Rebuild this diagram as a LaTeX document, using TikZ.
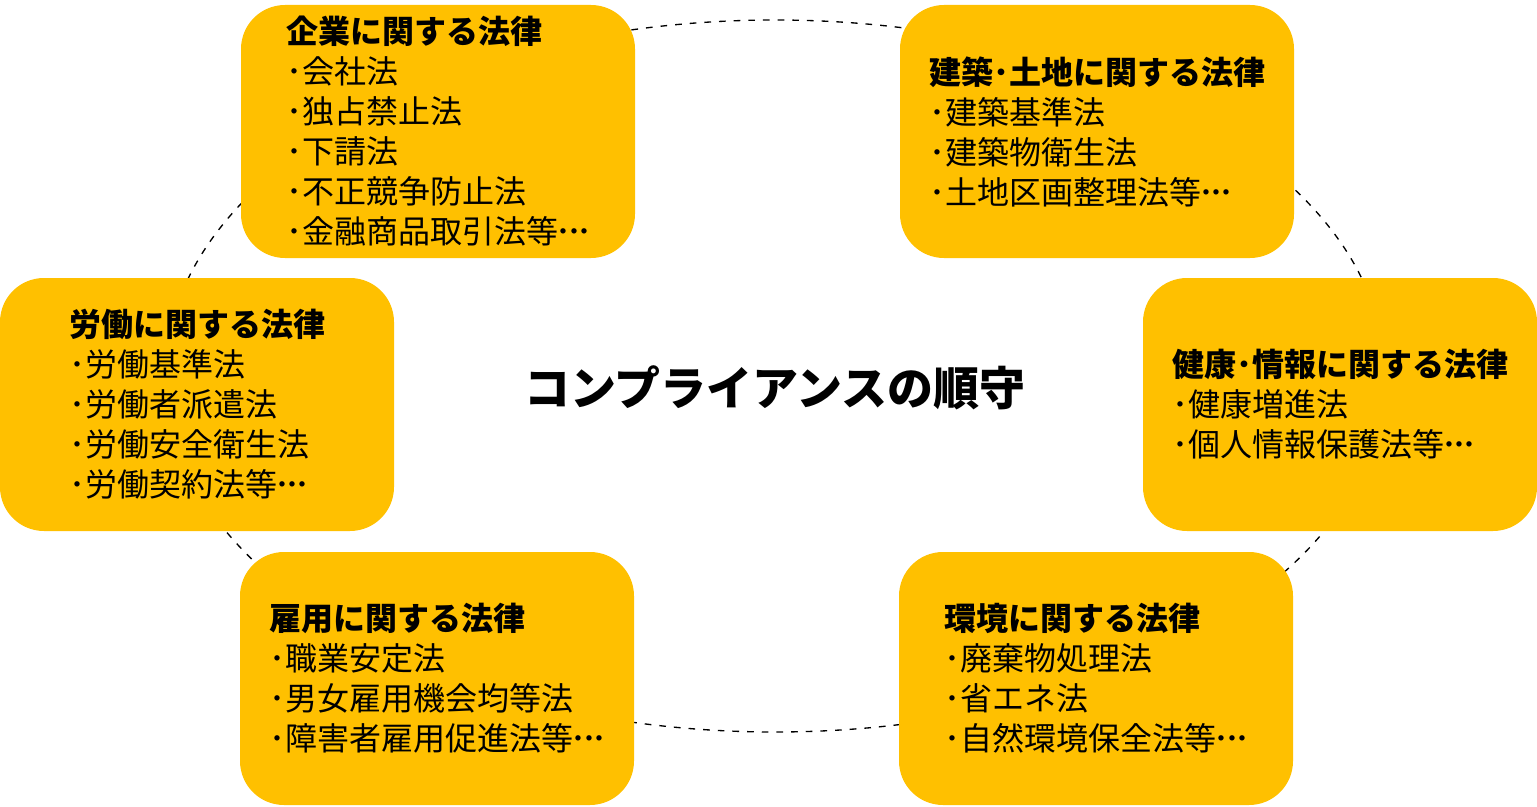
\documentclass[tikz,border=0pt]{standalone}
\usepackage{fontspec}
\newfontfamily\jp{Noto Sans CJK JP}
\definecolor{gold}{HTML}{FFC000}
\newcommand\jpell{\makebox[0.32em][c]{･}\makebox[0.32em][c]{･}\makebox[0.32em][c]{･}}
\tikzset{
  lawbox/.style={fill=gold, draw=none, rounded corners=33pt, minimum width=295.5pt, minimum height=189.75pt, inner sep=0pt, outer sep=0pt, align=left, font=\jp\fontsize{24}{30}\selectfont},
  ring/.style={dashed, dash pattern=on 5pt off 6pt, line width=1pt, black},
  centertext/.style={font=\jp\bfseries\fontsize{34.5}{40}\selectfont, inner sep=0pt}
}
\begin{document}
\begin{tikzpicture}[x=0.75pt,y=-0.75pt]
\useasboundingbox (0,0) rectangle (1537,806);
\draw[ring] (775,376) ellipse [x radius=457.5pt, y radius=267pt];
\node[lawbox] (kigyo) at (438,131.5) {\textbf{企業に関する法律}\\･会社法\\･独占禁止法\\･下請法\\･不正競争防止法\\･金融商品取引法等\jpell};
\node[lawbox] (kenchiku) at (1097,131.5) {\textbf{建築･土地に関する法律}\\･建築基準法\\･建築物衛生法\\･土地区画整理法等\jpell};
\node[lawbox] (rodo) at (197,404.5) {\textbf{労働に関する法律}\\･労働基準法\\･労働者派遣法\\･労働安全衛生法\\･労働契約法等\jpell};
\node[lawbox] (kenko) at (1340,404.5) {\textbf{健康･情報に関する法律}\\･健康増進法\\･個人情報保護法等\jpell};
\node[lawbox] (koyo) at (437,678.5) {\textbf{雇用に関する法律}\\･職業安定法\\･男女雇用機会均等法\\･障害者雇用促進法等\jpell};
\node[lawbox] (kankyo) at (1096,678.5) {\textbf{環境に関する法律}\\･廃棄物処理法\\･省エネ法\\･自然環境保全法等\jpell};
\node[centertext] (center) at (775,388) {コンプライアンスの順守};
\end{tikzpicture}
\end{document}
